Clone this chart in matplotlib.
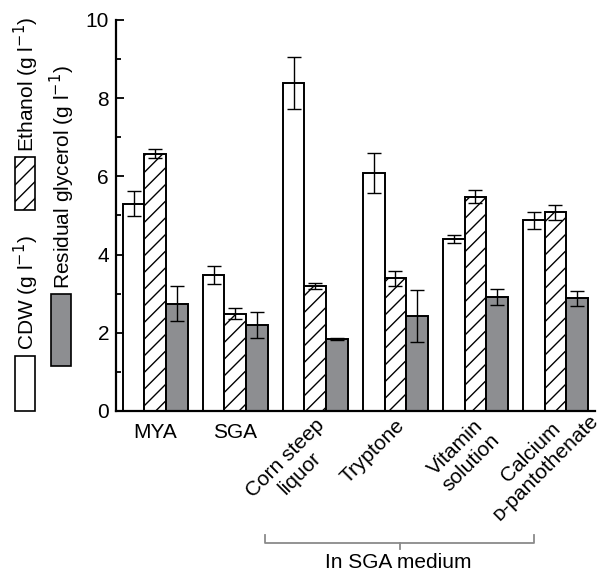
import numpy as np
import matplotlib
matplotlib.use("Agg")
import matplotlib.pyplot as plt
from matplotlib.patches import Rectangle
from matplotlib.lines import Line2D

plt.rcParams["font.family"] = ["Liberation Sans", "DejaVu Sans"]
plt.rcParams["font.size"] = 15
plt.rcParams["hatch.linewidth"] = 1.0

# data
groups = ["MYA", "SGA", "Corn steep\nliquor", "Tryptone", "Vitamin\nsolution",
          "Calcium\n\u1d05-pantothenate"]
cdw = [5.30, 3.48, 8.38, 6.08, 4.40, 4.88]
cdw_err = [0.32, 0.24, 0.66, 0.51, 0.11, 0.22]
ethanol = [6.58, 2.49, 3.20, 3.39, 5.48, 5.08]
ethanol_err = [0.12, 0.15, 0.07, 0.20, 0.17, 0.20]
glycerol = [2.74, 2.20, 1.84, 2.43, 2.92, 2.88]
glycerol_err = [0.45, 0.33, 0.02, 0.67, 0.20, 0.19]

GRAY = "#8d8e91"
W = 0.27
FS = 15

fig = plt.figure(figsize=(6.03, 5.70), dpi=100)
ax = fig.add_axes([0.1924, 0.279, 0.795, 0.686])

x = np.arange(len(groups))
ekw = dict(ecolor="black", elinewidth=1.0, capsize=5, capthick=1.0)
bar_kw = dict(edgecolor="black", linewidth=1.4, error_kw=ekw)
ax.bar(x - W, cdw, W, yerr=cdw_err, color="white", **bar_kw)
ax.bar(x, ethanol, W, yerr=ethanol_err, color="white", hatch="//", **bar_kw)
ax.bar(x + W, glycerol, W, yerr=glycerol_err, color=GRAY, **bar_kw)

ax.set_xlim(-0.49, 5.5)
ax.set_ylim(0, 10)
ax.set_yticks([0, 2, 4, 6, 8, 10])
ax.set_yticks([1, 3, 5, 7, 9], minor=True)
ax.tick_params(axis="y", which="major", direction="in", length=6, width=1.3, labelsize=FS, pad=5)
ax.tick_params(axis="y", which="minor", direction="in", length=3.5, width=1.3)
ax.spines["top"].set_visible(False)
ax.spines["right"].set_visible(False)
ax.spines["left"].set_linewidth(1.6)
ax.spines["bottom"].set_linewidth(1.6)

ax.set_xticks(x)
ax.set_xticklabels([])
ax.tick_params(axis="x", length=0)
for i, lab in enumerate(groups):
    if i < 2:
        ax.text(i, -0.3, lab, ha="center", va="top", fontsize=FS)
    else:
        # the long second line of the last label pushes it down-left, nudge it back
        dx, dy = (0.24, 0.5) if i == 5 else (0, 0)
        ax.text(i - 0.01 + dx, -0.12 + dy, lab, ha="right", va="top", rotation=45,
                rotation_mode="anchor", multialignment="center", fontsize=FS,
                linespacing=1.15)

# bracket under the SGA-medium groups
tr = fig.transFigure
def fx(px):
    return px / 603
def fy(py):
    return 1 - py / 570
bc = "#8a8a8a"
fig.add_artist(Line2D([fx(265), fx(265), fx(534), fx(534)],
                      [fy(535), fy(543), fy(543), fy(535)], color=bc, lw=1.3, transform=tr))
fig.add_artist(Line2D([fx(400), fx(400)], [fy(543), fy(549)], color=bc, lw=1.3, transform=tr))
fig.text(fx(398), fy(562), "In SGA medium", ha="center", va="center", fontsize=FS)

# legend drawn sideways on the left
def patch(x0, y0, x1, y1, **kw):
    fig.add_artist(Rectangle((fx(x0), fy(y1)), fx(x1) - fx(x0), fy(y0) - fy(y1),
                             transform=tr, edgecolor="black", linewidth=1.2, **kw))
patch(15, 356, 35, 411, facecolor="white")
patch(15, 157, 35, 210, facecolor="white", hatch="//")
patch(51, 294, 71, 366, facecolor=GRAY)
fig.text(fx(26), fy(350), "CDW (g l$^{-1}$)", rotation=90, ha="center", va="bottom", fontsize=FS)
fig.text(fx(26), fy(152), "Ethanol (g l$^{-1}$)", rotation=90, ha="center", va="bottom", fontsize=FS)
fig.text(fx(62), fy(289), "Residual glycerol (g l$^{-1}$)", rotation=90, ha="center", va="bottom",
         fontsize=FS)

fig.savefig("out.png", dpi=100)
